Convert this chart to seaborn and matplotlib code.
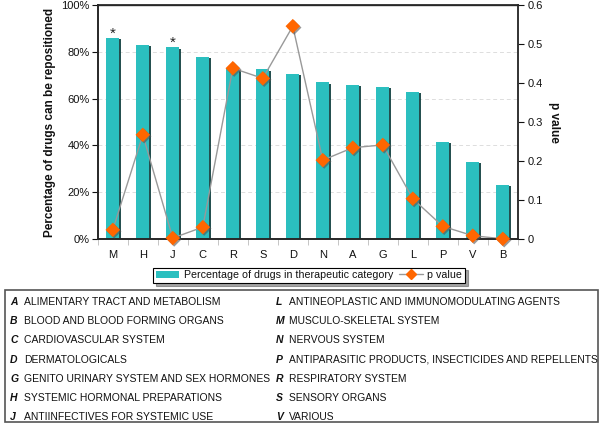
import numpy as np
import matplotlib
matplotlib.use("Agg")
import matplotlib.pyplot as plt
import matplotlib.patheffects as pe
from matplotlib.patches import Rectangle
from matplotlib.lines import Line2D
import seaborn as sns

categories = ["M", "H", "J", "C", "R", "S", "D", "N", "A", "G", "L", "P", "V", "B"]
pct_repositioned = [86, 83, 82, 78, 73, 72.5, 70.5, 67, 66, 65, 63, 41.6, 33, 23]
p_values = [0.023, 0.267, 0.002, 0.030, 0.438, 0.412, 0.546, 0.202, 0.234, 0.241, 0.103, 0.032, 0.008, 0.0]
starred = ["M", "J"]

left_codes = ["A", "B", "C", "D", "G", "H", "J"]
left_names = ["ALIMENTARY TRACT AND METABOLISM", "BLOOD AND BLOOD FORMING ORGANS",
              "CARDIOVASCULAR SYSTEM", "DERMATOLOGICALS",
              "GENITO URINARY SYSTEM AND SEX HORMONES", "SYSTEMIC HORMONAL PREPARATIONS",
              "ANTIINFECTIVES FOR SYSTEMIC USE"]
right_codes = ["L", "M", "N", "P", "R", "S", "V"]
right_names = ["ANTINEOPLASTIC AND IMMUNOMODULATING AGENTS", "MUSCULO-SKELETAL SYSTEM",
               "NERVOUS SYSTEM", "ANTIPARASITIC PRODUCTS, INSECTICIDES AND REPELLENTS",
               "RESPIRATORY SYSTEM", "SENSORY ORGANS", "VARIOUS"]

sns.set_theme(style="white")
plt.rcParams['font.family'] = ['Liberation Sans', 'DejaVu Sans']
plt.rcParams.update({'text.color': '#111111', 'axes.labelcolor': '#111111',
                     'xtick.color': '#111111', 'ytick.color': '#111111'})

bar_color = "#2BBFBF"
diamond_color = "#FF6600"

fig = plt.figure(figsize=(6, 4.28), dpi=100)
ax = fig.add_axes([0.163, 0.442, 0.700, 0.546])

sns.barplot(x=categories, y=pct_repositioned, ax=ax, color=bar_color, width=0.43,
            saturation=1, edgecolor="none")
for bar in ax.patches:
    bar.set_path_effects([pe.SimplePatchShadow(offset=(1.5, -1), shadow_rgbFace="#0d3d3d", alpha=0.9),
                          pe.Normal()])

ax.set_ylim(0, 100)
ax.set_xlim(-0.5, len(categories) - 0.5)
ax.set_yticks(range(0, 101, 20))
ax.set_yticklabels([f"{v}%" for v in range(0, 101, 20)], fontsize=8)
ax.tick_params(axis='x', labelsize=8, length=0, pad=8)
ax.tick_params(axis='y', length=4, width=0.8, direction='out', left=True, pad=2)
ax.yaxis.grid(True, linestyle=(0, (4, 3)), color="#dddddd", linewidth=0.7)
ax.set_axisbelow(True)
# small ticks between categories
ax.set_xticks(np.arange(-0.5, len(categories), 1), minor=True)
ax.tick_params(axis='x', which='minor', length=4, width=0.6, color="#bbbbbb", bottom=True)
for side in ["top", "left", "right", "bottom"]:
    ax.spines[side].set_color("#333333")
ax.spines["left"].set_linewidth(1.2)
ax.spines["bottom"].set_linewidth(1.2)
ax.spines["top"].set_linewidth(1.0)
ax.set_ylabel("Percentage of drugs can be repositioned", fontsize=8.5, fontweight="bold", labelpad=4)

for i, c in enumerate(categories):
    if c in starred:
        ax.text(i, pct_repositioned[i] + 0.2, "*", ha="center", va="baseline", fontsize=11, color="#222222")

ax2 = ax.twinx()
xpos = np.arange(len(categories))
sns.lineplot(x=xpos, y=p_values, ax=ax2, color="#999999", linewidth=1.0)
sns.scatterplot(x=xpos, y=p_values, ax=ax2, marker="D", s=55, color=diamond_color,
                edgecolor="none", zorder=5, clip_on=False)
for coll in ax2.collections:
    coll.set_path_effects([pe.SimplePatchShadow(offset=(1, -1), shadow_rgbFace="#555555", alpha=0.6),
                           pe.Normal()])
ax2.set_ylim(0, 0.6)
ax2.set_yticks(np.arange(0, 0.61, 0.1))
ax2.set_yticklabels(["0", "0.1", "0.2", "0.3", "0.4", "0.5", "0.6"], fontsize=8)
ax2.tick_params(axis='y', length=4, width=0.8, direction='out', right=True, pad=3)
ax2.spines["right"].set_color("#333333")
ax2.spines["right"].set_linewidth(1.2)
ax2.set_ylabel("p value", fontsize=8.5, fontweight="bold", rotation=270, labelpad=12)
ax2.grid(False)

handles = [Rectangle((0, 0), 1, 1, facecolor=bar_color, edgecolor="none"),
           Line2D([0], [0], color="#999999", lw=1, marker="D", markersize=5,
                  markerfacecolor=diamond_color, markeredgecolor=diamond_color)]
leg = fig.legend(handles, ["Percentage of drugs in therapeutic category", "p value"],
                 loc="center", bbox_to_anchor=(0.515, 0.357), ncol=2, fontsize=7.7,
                 frameon=True, fancybox=False, shadow=True, edgecolor="black",
                 handlelength=2.2, handletextpad=0.4, columnspacing=0.6,
                 borderpad=0.25, borderaxespad=0)
leg.get_frame().set_linewidth(0.8)

# category key box
fig.patches.append(Rectangle((0.008, 0.014), 0.988, 0.308, transform=fig.transFigure,
                             facecolor="white", edgecolor="#555555", linewidth=1.2))
row_y = 1 - 302 / 428
row_step = 19.2 / 428
for k in range(len(left_codes)):
    y = row_y - k * row_step
    fig.text(0.017, y, left_codes[k], fontsize=7.5, fontweight="bold", fontstyle="italic", va="center")
    fig.text(0.040, y, left_names[k], fontsize=7.5, va="center")
    fig.text(0.460, y, right_codes[k], fontsize=7.5, fontweight="bold", fontstyle="italic", va="center")
    fig.text(0.482, y, right_names[k], fontsize=7.4, va="center")

fig.savefig("out.png", dpi=100)
